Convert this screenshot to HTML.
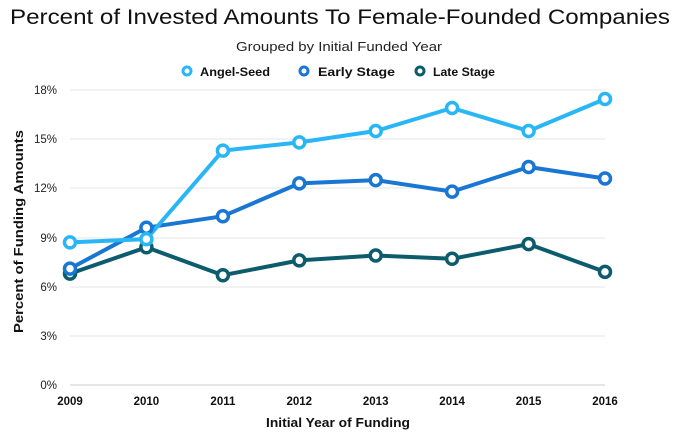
<!DOCTYPE html>
<html><head><style>
body{margin:0;background:#fff;}
text{font-family:"Liberation Sans",sans-serif;}
</style></head><body>
<svg width="680" height="443" xmlns="http://www.w3.org/2000/svg">
<text x="10" y="24" textLength="660" lengthAdjust="spacingAndGlyphs" font-size="21" fill="#111">Percent of Invested Amounts To Female-Founded Companies</text>
<text x="236" y="51" textLength="206" lengthAdjust="spacingAndGlyphs" font-size="13" fill="#222">Grouped by Initial Funded Year</text>
<g font-size="12" fill="#111" font-weight="bold">
<circle cx="187" cy="71" r="4" fill="#fff" stroke="#29b6f6" stroke-width="3"/><text x="200" y="76" textLength="70" lengthAdjust="spacingAndGlyphs">Angel-Seed</text>
<circle cx="304" cy="71" r="4" fill="#fff" stroke="#1976d2" stroke-width="3"/><text x="318" y="76" textLength="77" lengthAdjust="spacingAndGlyphs">Early Stage</text>
<circle cx="420" cy="71" r="4" fill="#fff" stroke="#0d5c6e" stroke-width="3"/><text x="433" y="76" textLength="62" lengthAdjust="spacingAndGlyphs">Late Stage</text>
</g>
<g stroke="#e6e6e6" stroke-width="1">
<line x1="70" x2="605" y1="90" y2="90"/><line x1="70" x2="605" y1="139" y2="139"/><line x1="70" x2="605" y1="188" y2="188"/><line x1="70" x2="605" y1="238" y2="238"/><line x1="70" x2="605" y1="287" y2="287"/><line x1="70" x2="605" y1="336" y2="336"/>
</g>
<line x1="70" x2="605" y1="385" y2="385" stroke="#ccc"/>
<g font-size="11.5" fill="#222" text-anchor="end">
<text x="57" y="94">18%</text><text x="57" y="143">15%</text><text x="57" y="192">12%</text><text x="57" y="242">9%</text><text x="57" y="291">6%</text><text x="57" y="340">3%</text><text x="57" y="389">0%</text>
</g>
<g font-size="11.5" fill="#111" font-weight="bold" text-anchor="middle">
<text x="70" y="405">2009</text><text x="146.4" y="405">2010</text><text x="222.9" y="405">2011</text><text x="299.3" y="405">2012</text><text x="375.7" y="405">2013</text><text x="452.1" y="405">2014</text><text x="528.6" y="405">2015</text><text x="605" y="405">2016</text>
</g>
<text x="266" y="427" textLength="144" lengthAdjust="spacingAndGlyphs" font-size="13" font-weight="bold" fill="#111">Initial Year of Funding</text>
<text transform="translate(23,333) rotate(-90)" textLength="203" lengthAdjust="spacingAndGlyphs" font-size="13" font-weight="bold" fill="#111">Percent of Funding Amounts</text>
<g fill="none" stroke-width="4" stroke-linejoin="round">
<polyline stroke="#0d5c6e" points="70,273.6 146.4,247.3 222.9,275.2 299.3,260.4 375.7,255.5 452.1,258.8 528.6,244.1 605,271.9"/>
<polyline stroke="#1976d2" points="70,268.6 146.4,227.7 222.9,216.2 299.3,183.4 375.7,180.1 452.1,191.6 528.6,167 605,178.5"/>
<polyline stroke="#29b6f6" points="70,242.4 146.4,239.1 222.9,150.6 299.3,142.4 375.7,131 452.1,108 528.6,131 605,99"/>
</g>
<g fill="#fff" stroke-width="3.5">
<g stroke="#0d5c6e"><circle cx="70" cy="273.6" r="5.5"/><circle cx="146.4" cy="247.3" r="5.5"/><circle cx="222.9" cy="275.2" r="5.5"/><circle cx="299.3" cy="260.4" r="5.5"/><circle cx="375.7" cy="255.5" r="5.5"/><circle cx="452.1" cy="258.8" r="5.5"/><circle cx="528.6" cy="244.1" r="5.5"/><circle cx="605" cy="271.9" r="5.5"/></g>
<g stroke="#1976d2"><circle cx="70" cy="268.6" r="5.5"/><circle cx="146.4" cy="227.7" r="5.5"/><circle cx="222.9" cy="216.2" r="5.5"/><circle cx="299.3" cy="183.4" r="5.5"/><circle cx="375.7" cy="180.1" r="5.5"/><circle cx="452.1" cy="191.6" r="5.5"/><circle cx="528.6" cy="167" r="5.5"/><circle cx="605" cy="178.5" r="5.5"/></g>
<g stroke="#29b6f6"><circle cx="70" cy="242.4" r="5.5"/><circle cx="146.4" cy="239.1" r="5.5"/><circle cx="222.9" cy="150.6" r="5.5"/><circle cx="299.3" cy="142.4" r="5.5"/><circle cx="375.7" cy="131" r="5.5"/><circle cx="452.1" cy="108" r="5.5"/><circle cx="528.6" cy="131" r="5.5"/><circle cx="605" cy="99" r="5.5"/></g>
</g>
</svg>
</body></html>
